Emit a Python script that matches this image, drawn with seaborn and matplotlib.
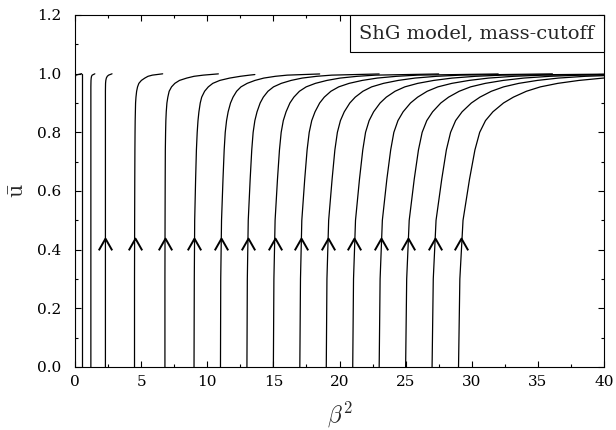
import numpy as np
import pandas as pd
import matplotlib
matplotlib.use("Agg")
import matplotlib.pyplot as plt
from matplotlib.path import Path
from matplotlib.lines import Line2D
from matplotlib.ticker import MultipleLocator, FormatStrFormatter
import seaborn as sns

# ---- data ----
# shared u-levels at which each flow line's beta^2 was read
U_LEVELS = [0.0, 0.3, 0.5, 0.64, 0.74, 0.8, 0.84, 0.87, 0.9, 0.92, 0.94,
            0.955, 0.967, 0.977, 0.985, 0.991, 0.995]

C00 = [0.03, 0.03, 0.03, 0.03, 0.03, 0.03, 0.03, 0.03, 0.03, 0.03, 0.03, 0.03, 0.03, 0.03, 0.03, 0.035, 0.06]
C05 = [0.5, 0.5, 0.5, 0.5, 0.5, 0.5, 0.5, 0.5, 0.5, 0.5, 0.5, 0.5, 0.5, 0.5, 0.5, 0.5, 0.5]
C12 = [1.2, 1.2, 1.2, 1.2, 1.2, 1.2, 1.2, 1.2, 1.2, 1.2, 1.2, 1.2, 1.205, 1.21, 1.225, 1.25, 1.3]
C23 = [2.3, 2.3, 2.3, 2.3, 2.3, 2.3, 2.3, 2.3, 2.3, 2.3, 2.3, 2.305, 2.31, 2.33, 2.37, 2.44, 2.54]
C45 = [4.5, 4.5, 4.51, 4.52, 4.53, 4.54, 4.55, 4.565, 4.58, 4.61, 4.66, 4.73, 4.83, 5.02, 5.28, 5.52, 5.85]
C68 = [6.8, 6.8, 6.81, 6.82, 6.83, 6.85, 6.87, 6.9, 6.95, 7.02, 7.12, 7.3, 7.55, 7.9, 8.45, 9.0, 9.7]
C90 = [9.0, 9.02, 9.05, 9.12, 9.18, 9.24, 9.3, 9.37, 9.47, 9.58, 9.8, 10.08, 10.42, 10.95, 11.7, 12.5, 13.2]
C110 = [11.0, 11.02, 11.08, 11.19, 11.28, 11.36, 11.46, 11.58, 11.76, 11.95, 12.22, 12.55, 13.02, 13.61, 14.28, 15.15, 16.05]
C130 = [13.0, 13.03, 13.1, 13.245, 13.365, 13.47, 13.6, 13.765, 14.0, 14.24, 14.59, 15.01, 15.6, 16.34, 17.18, 18.27, 19.41]
C150 = [15.0, 15.04, 15.13, 15.31, 15.46, 15.59, 15.75, 15.96, 16.25, 16.55, 16.97, 17.48, 18.18, 19.05, 20.05, 21.34, 22.72]
C170 = [17.0, 17.05, 17.15, 17.37, 17.55, 17.71, 17.9, 18.15, 18.5, 18.85, 19.35, 19.94, 20.73, 21.72, 22.86, 24.31, 25.91]
C190 = [19.0, 19.05, 19.18, 19.44, 19.65, 19.84, 20.07, 20.36, 20.78, 21.19, 21.77, 22.43, 23.33, 24.44, 25.71, 27.33, 29.15]
C210 = [21.0, 21.06, 21.21, 21.51, 21.76, 21.97, 22.24, 22.58, 23.07, 23.54, 24.2, 24.94, 25.92, 27.13, 28.52, 30.28, 32.31]
C230 = [23.0, 23.07, 23.24, 23.58, 23.87, 24.11, 24.42, 24.81, 25.37, 25.91, 26.63, 27.44, 28.5, 29.8, 31.28, 33.17, 35.38]
C250 = [25.0, 25.08, 25.27, 25.65, 25.97, 26.25, 26.6, 27.04, 27.66, 28.25, 29.05, 29.91, 31.03, 32.38, 33.93, 35.89, 38.27]
C270 = [27.0, 27.09, 27.3, 27.73, 28.08, 28.4, 28.78, 29.27, 29.97, 30.62, 31.48, 32.41, 33.56, 34.96, 36.56, 38.58, 41.11]
C290 = [29.0, 29.1, 29.34, 29.83, 30.24, 30.6, 31.04, 31.6, 32.4, 33.15, 34.13, 35.19, 36.51, 38.11, 39.95, 42.26, 45.15]

# end point of each flow line
END_X = [0.5, 0.5, 1.5, 2.8, 6.63, 10.84, 13.6, 18.5, 23.0, 27.5, 32.0, 36.1, 42.0, 44.0, 46.0, 48.0, 52.0]
END_U = [1.0, 1.0, 0.9995, 0.9995, 0.9995, 0.9993, 0.997, 0.999, 0.999, 0.999, 0.999, 0.9993, 0.9992, 0.9988, 0.9985, 0.998, 0.998]

# flow-direction arrows (on the lines at u ~ 0.42)
ARROW_X = [2.3, 4.5, 6.8, 9.03, 11.05, 13.07, 15.09, 17.1, 19.11, 21.13, 23.15, 25.17, 27.19, 29.22]
ARROW_U = [0.42] * 14

LEGEND_TEXT = "ShG model, mass-cutoff"
X_TICKS = [0, 5, 10, 15, 20, 25, 30, 35, 40]
Y_TICKS = [0.0, 0.2, 0.4, 0.6, 0.8, 1.0, 1.2]

curves = [C00, C05, C12, C23, C45, C68, C90, C110, C130, C150, C170,
          C190, C210, C230, C250, C270, C290]

rows = []
for i, cx in enumerate(curves):
    for xv, uv in zip(cx, U_LEVELS):
        rows.append((i, xv, uv))
    rows.append((i, END_X[i], END_U[i]))
df = pd.DataFrame(rows, columns=["curve", "beta2", "u"])

# ---- style ----
sns.set_theme(style="ticks")
plt.rcParams["font.family"] = ["DejaVu Serif"]
plt.rcParams["mathtext.fontset"] = "cm"
plt.rcParams["axes.linewidth"] = 0.8

fig = plt.figure(figsize=(6.16, 4.30), dpi=100)
ax = fig.add_axes([75 / 616, 63 / 430, 529 / 616, 352 / 430])

sns.lineplot(data=df, x="beta2", y="u", units="curve", estimator=None,
             sort=False, color="black", linewidth=0.9, ax=ax, legend=False)

chevron = Path([(-1.0, -0.88), (0.0, 0.88), (1.0, -0.88)],
               [Path.MOVETO, Path.LINETO, Path.LINETO])
ax.plot(ARROW_X, ARROW_U, linestyle="none", marker=chevron, markersize=9.6,
        markerfacecolor="none", markeredgecolor="black", markeredgewidth=1.4)

ax.set_xlim(0, 40)
ax.set_ylim(0, 1.2)
ax.set_xticks(X_TICKS)
ax.set_yticks(Y_TICKS)
ax.xaxis.set_minor_locator(MultipleLocator(2.5))
ax.yaxis.set_minor_locator(MultipleLocator(0.1))
ax.yaxis.set_major_formatter(FormatStrFormatter("%.1f"))
ax.tick_params(which="both", direction="in", top=True, right=True,
               labelsize=11, colors="black", width=0.8)
ax.tick_params(which="major", length=4.3)
ax.tick_params(which="minor", length=2.2)
ax.tick_params(axis="x", which="major", pad=6)
ax.tick_params(axis="y", which="major", pad=10)
for s in ax.spines.values():
    s.set_color("black")

ax.set_xlabel(r"$\beta^2$", fontsize=17, labelpad=7)
ax.set_ylabel(r"$\bar{\mathrm{u}}$", fontsize=17, labelpad=6)

leg = ax.legend(handles=[Line2D([], [], linestyle="none")], labels=[LEGEND_TEXT],
                loc="upper right", handlelength=0, handletextpad=0,
                borderaxespad=0, fancybox=False, framealpha=1,
                edgecolor="black", fontsize=14, borderpad=0.5)
leg.get_frame().set_linewidth(0.8)

fig.savefig("out.png", dpi=100)
